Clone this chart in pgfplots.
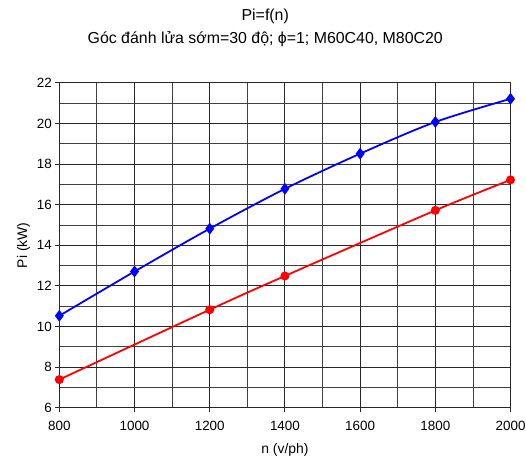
\documentclass[border=0pt]{standalone}
\usepackage{pgfplots}
\pgfplotsset{compat=1.18}
\usepackage{fontspec}
\setmainfont{Liberation Sans}
\begin{document}
\begin{tikzpicture}
% fixed page frame around the plot area
\useasboundingbox (-59.5bp,-54bp) rectangle (468bp,409bp);
\begin{axis}[
  scale only axis,
  width=452.5bp, height=326bp,
  xmin=800, xmax=2000, ymin=6, ymax=22,
  xtick={800,1000,...,2000}, minor xtick={900,1100,...,1900},
  ytick={6,8,...,22}, minor ytick={7,9,...,21},
  grid=both,
  major grid style={black!85, line width=0.9pt},
  minor grid style={black!75, line width=0.9pt},
  axis line style={black!85, line width=0.9pt},
  tick align=outside, major tick length=4bp, minor tick length=0pt,
  tick style={black!85, line width=0.9pt},
  xtick pos=bottom, ytick pos=left,
  /pgf/number format/assume math mode=true,
  /pgf/number format/set thousands separator={},
  tick label style={font=\fontsize{13.5}{16}\selectfont},
  xticklabel style={yshift=-6bp},
  xlabel={n (v/ph)}, ylabel={Pi (kW)},
  label style={font=\fontsize{14}{16}\selectfont},
  xlabel style={yshift=-6bp},
  ylabel style={yshift=0bp},
]
% M60C40
\addplot[blue, line width=1.8pt, smooth, mark=diamond*, mark size=4.5bp,
  mark options={solid, fill=blue}]
  coordinates {(800,10.53) (1000,12.71) (1200,14.82) (1400,16.78)
               (1600,18.51) (1800,20.07) (2000,21.21)};
% M80C20
\addplot[red, line width=1.8pt, smooth, mark=*, mark size=3.6bp,
  mark options={solid, fill=red}]
  coordinates {(800,7.39) (1200,10.83) (1400,12.49) (1800,15.72) (2000,17.22)};
\end{axis}
\node[font=\fontsize{16}{18}\selectfont] at (206.5bp,393bp) {Pi=f(n)};
\node[font=\fontsize{16}{18}\selectfont] at (206.5bp,370bp) {Góc đánh lửa sớm=30 độ; ϕ=1; M60C40, M80C20};
\end{tikzpicture}
\end{document}
